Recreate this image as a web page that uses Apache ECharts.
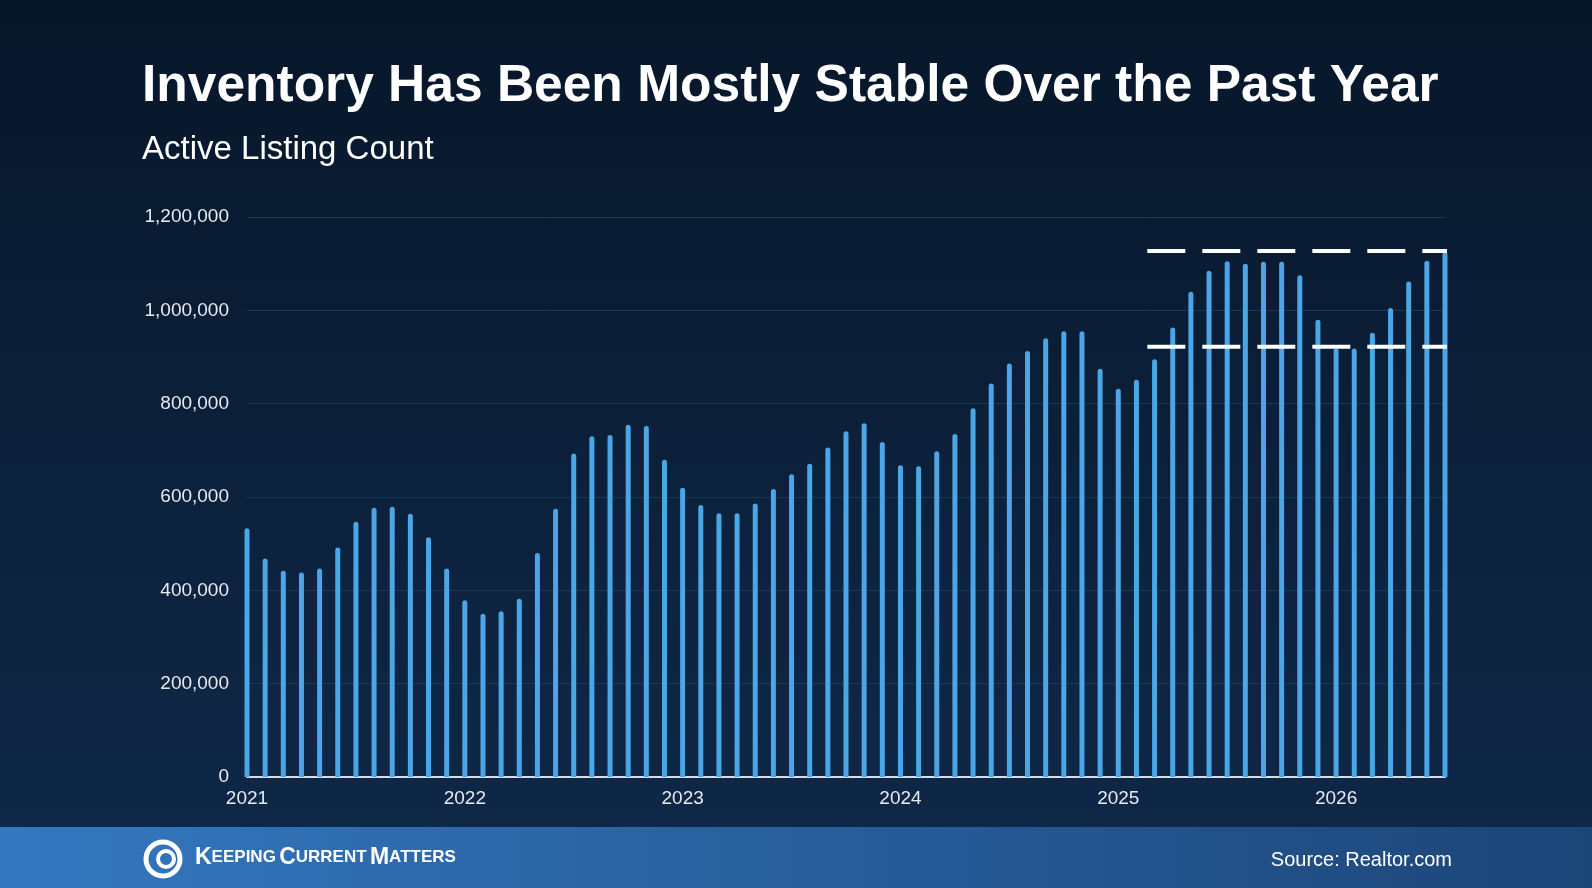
<!DOCTYPE html>
<html>
<head>
<meta charset="utf-8">
<script src="https://cdn.jsdelivr.net/npm/echarts@6/dist/echarts.min.js"></script>
<style>
html, body { margin: 0; padding: 0; }
#chart { width: 1592px; height: 888px; }
</style>
</head>
<body>
<div id="chart"></div>
<script>
// 月度活跃房源数量 2021-01 ~ 2026-07
const values = [
    533000, 468000, 442000, 438000, 447000, 492000, 547000, 577000, 579000, 564000, 514000, 447000,
    379000, 350000, 355000, 382000, 480000, 575000, 693000, 730000, 733000, 755000, 752000, 680000,
    620000, 583000, 565000, 565000, 586000, 617000, 649000, 671000, 706000, 741000, 758000, 718000,
    668000, 666000, 698000, 735000, 790000, 843000, 886000, 913000, 940000, 955000, 955000, 875000,
    832000, 851000, 895000, 963000, 1040000, 1085000, 1105000, 1100000, 1104000, 1104000, 1075000, 980000,
    918000, 918000, 952000, 1005000, 1062000, 1106000, 1125000
];

const months = values.map((v, i) => {
    const y = 2021 + Math.floor(i / 12);
    const m = (i % 12) + 1;
    return `${y}-${m < 10 ? '0' + m : m}`;
});

// 近一年区间的上下参考线
const bandTop = 1127000;
const bandBottom = 922000;

const chart = echarts.init(document.getElementById('chart'));

const dashStyle = { color: '#ffffff', width: 4, type: [38, 17] };

chart.setOption({
    backgroundColor: {
        type: 'linear', x: 0, y: 0, x2: 0, y2: 1,
        colorStops: [{ offset: 0, color: '#07172a' }, { offset: 1, color: '#10294a' }]
    },
    textStyle: { fontFamily: 'Liberation Sans, Arial, sans-serif' },
    title: [{
        text: 'Inventory Has Been Mostly Stable Over the Past Year',
        left: 137, top: 56,
        textStyle: { color: '#ffffff', fontSize: 51.5, fontWeight: 'bold' }
    }, {
        text: 'Active Listing Count',
        left: 137, top: 128,
        textStyle: { color: '#ffffff', fontSize: 33, fontWeight: 'normal' }
    }],
    grid: { left: 247, right: 147, top: 217, bottom: 111, containLabel: false },
    xAxis: [{
        type: 'category',
        data: months,
        boundaryGap: false,
        axisLine: { lineStyle: { color: '#d8dde4', width: 2 } },
        axisTick: { show: false },
        axisLabel: {
            color: '#e6e9ee', fontSize: 19, margin: 12,
            interval: (i) => i % 12 === 0,
            formatter: (v) => v.slice(0, 4)
        }
    }, {
        type: 'value', min: 0, max: 66, show: false
    }],
    yAxis: {
        type: 'value',
        min: 0, max: 1200000, interval: 200000,
        axisLabel: {
            color: '#e6e9ee', fontSize: 19, margin: 18,
            formatter: (v) => v.toLocaleString('en-US')
        },
        axisLine: { show: false },
        axisTick: { show: false },
        splitLine: { lineStyle: { color: '#1b3a5a', width: 1 } }
    },
    series: [{
        type: 'bar',
        data: values,
        barWidth: 5,
        itemStyle: { color: '#4aa6e6', borderRadius: [3, 3, 0, 0] },
        silent: true
    }, {
        type: 'line', xAxisIndex: 1, clip: false, symbol: 'none', silent: true,
        data: [[49.6, bandTop], [66.4, bandTop]],
        lineStyle: dashStyle, z: 5
    }, {
        type: 'line', xAxisIndex: 1, clip: false, symbol: 'none', silent: true,
        data: [[49.6, bandBottom], [66.4, bandBottom]],
        lineStyle: dashStyle, z: 5
    }],
    graphic: [{
        type: 'rect',
        shape: { x: 0, y: 827, width: 1592, height: 61 },
        style: {
            fill: {
                type: 'linear', x: 0, y: 0, x2: 1, y2: 0,
                colorStops: [{ offset: 0, color: '#3478c0' }, { offset: 1, color: '#1c4578' }]
            }
        }
    }, {
        type: 'circle',
        shape: { cx: 163, cy: 859, r: 17 },
        style: { fill: 'none', stroke: '#ffffff', lineWidth: 5 }
    }, {
        type: 'circle',
        shape: { cx: 166, cy: 859, r: 8 },
        style: { fill: 'none', stroke: '#ffffff', lineWidth: 4 }
    }, {
        type: 'text',
        left: 195, top: 846,
        style: {
            text: '{b|K}{s|EEPING} {b|C}{s|URRENT} {b|M}{s|ATTERS}',
            rich: {
                b: { fill: '#ffffff', fontSize: 23, fontWeight: 'bold', fontFamily: 'Liberation Sans Narrow, Liberation Sans' },
                s: { fill: '#ffffff', fontSize: 17, fontWeight: 'bold', fontFamily: 'Liberation Sans Narrow, Liberation Sans' }
            }
        }
    }, {
        type: 'text',
        right: 140, top: 850,
        style: { text: 'Source: Realtor.com', fill: '#ffffff', fontSize: 20, fontFamily: 'Liberation Sans' }
    }]
});
</script>
</body>
</html>
